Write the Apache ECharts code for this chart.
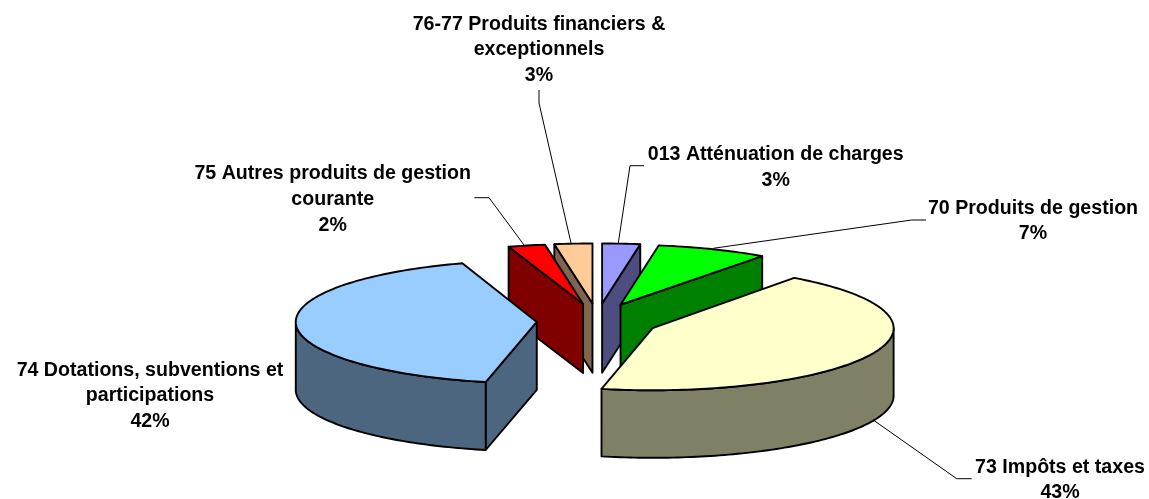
<!DOCTYPE html>
<html>
<head>
<meta charset="utf-8">
<style>html,body{margin:0;padding:0;background:#fff}#c{width:1149px;height:499px}</style>
<script src="https://cdn.jsdelivr.net/npm/echarts@6/dist/echarts.min.js"></script>
</head>
<body>
<div id="c"></div>
<script>
// Data (clockwise from 12 o'clock)
var categories = ['013 Atténuation de charges', '70 Produits de gestion', '73 Impôts et taxes',
  '74 Dotations, subventions et\nparticipations', '75 Autres produits de gestion\ncourante',
  '76-77 Produits financiers &\nexceptionnels'];
var values = [2.53, 7.47, 43.4, 41.6, 2.47, 2.53];
var topColors = ['#9999FF', '#00FF00', '#FFFFCC', '#99CCFF', '#FF0000', '#FFCC99'];
var sideColors = ['#4D4D80', '#008000', '#808066', '#4D6680', '#800000', '#806650'];
var drawOrder = [5, 0, 1, 4, 3, 2];

// Layout
var pie = {cx: 597.3, cy: 321, rx: 241, ry: 61.5, explode: 60.6, tilt: 0.29, depth: 68};
var labelCenters = [[775.7, 167.5], [1033, 221], [1060, 480], [150, 396], [332.7, 199.5], [539, 50]];
var leaders = [
  [[644, 165.7], [630, 165.7], [618.3, 243]],
  [[926, 220], [911.7, 220], [713.3, 248.3]],
  [[971.7, 478.7], [956.7, 478.7], [873.3, 420]],
  [],
  [[474.3, 197.7], [489, 197.7], [524, 245]],
  [[539, 90], [539, 103], [571, 243]]
];

var total = values.reduce(function (a, b) { return a + b; }, 0);
var cumulative = [];
values.reduce(function (acc, v, i) { cumulative[i] = acc; return acc + v; }, 0);
var TAU = Math.PI * 2;

function sliceGeometry(i) {
  var t0 = cumulative[i] / total * TAU;
  var t1 = (cumulative[i] + values[i]) / total * TAU;
  var mid = (t0 + t1) / 2;
  var c = [pie.cx + pie.explode * Math.sin(mid), pie.cy - pie.explode * pie.tilt * Math.cos(mid)];
  var ry = pie.ry - 1.5 * Math.cos(mid);
  var depth = pie.depth + 1.2 * Math.cos(mid);
  var rim = function (t, d) {
    return [c[0] + pie.rx * Math.sin(t), c[1] - ry * Math.cos(t) + (d || 0)];
  };
  var arc = function (a, b, d) {
    var n = Math.max(2, Math.ceil((b - a) / 0.02)), pts = [];
    for (var k = 0; k <= n; k++) pts.push(rim(a + (b - a) * k / n, d));
    return pts;
  };
  return {t0: t0, t1: t1, c: c, depth: depth, rim: rim, arc: arc};
}

function poly(points, fill) {
  return {
    type: 'polygon', shape: {points: points}, silent: true,
    style: {fill: fill, stroke: '#000', lineWidth: 1.9, lineJoin: 'round'}
  };
}

function renderSlice(params, api) {
  var i = api.value(0), g = sliceGeometry(i), side = sideColors[i], children = [];
  var cLow = [g.c[0], g.c[1] + g.depth];
  function wall(t) {
    var a = g.rim(t), b = g.rim(t, g.depth);
    return poly([g.c, a, b, cLow], side);
  }
  if (Math.sin(g.t0) < 0) children.push(wall(g.t0));
  if (Math.sin(g.t1) > 0) children.push(wall(g.t1));
  var a = Math.max(g.t0, Math.PI / 2), b = Math.min(g.t1, Math.PI * 1.5);
  if (b > a) {
    children.push(poly(g.arc(a, b, 0).concat(g.arc(a, b, g.depth).reverse()), side));
  }
  children.push(poly([g.c].concat(g.arc(g.t0, g.t1, 0)), topColors[i]));
  return {type: 'group', children: children};
}

function renderLabel(params, api) {
  var i = api.value(0), children = [];
  if (leaders[i].length) {
    children.push({
      type: 'polyline', shape: {points: leaders[i]}, silent: true,
      style: {fill: 'none', stroke: '#000', lineWidth: 1}
    });
  }
  children.push({
    type: 'text', x: labelCenters[i][0], y: labelCenters[i][1], silent: true,
    style: {
      text: categories[i] + '\n' + Math.round(values[i] / total * 100) + '%',
      fill: '#000', font: 'bold 19.6px "Liberation Sans", Arial, sans-serif',
      lineHeight: 25.7, align: 'center', verticalAlign: 'middle'
    }
  });
  return {type: 'group', children: children};
}

var chart = echarts.init(document.getElementById('c'), null, {width: 1149, height: 499});
chart.setOption({
  animation: false,
  backgroundColor: '#fff',
  tooltip: {show: false},
  series: [
    {
      type: 'custom', coordinateSystem: 'none', renderItem: renderSlice, silent: true, z: 2,
      data: drawOrder.map(function (i) { return [i, values[i]]; })
    },
    {
      type: 'custom', coordinateSystem: 'none', renderItem: renderLabel, silent: true, z: 3,
      data: categories.map(function (n, i) { return [i, values[i]]; })
    }
  ]
});
</script>
</body>
</html>
